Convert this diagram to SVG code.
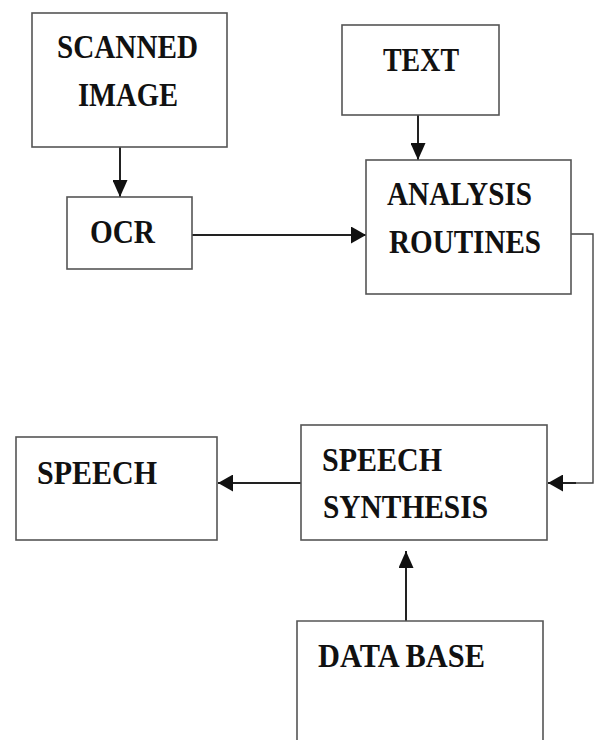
<svg xmlns="http://www.w3.org/2000/svg" width="595" height="740" viewBox="0 0 595 740">
  <style>
    .box { fill: #ffffff; stroke: #555555; stroke-width: 1.6; }
    .lbl { font-family: "Liberation Serif", "Times New Roman", serif; font-weight: bold; font-size: 33px; fill: #111111; }
    .wire { fill: none; stroke: #222222; stroke-width: 2; }
    .thin { fill: none; stroke: #444444; stroke-width: 1.4; }
  </style>
  <defs>
    <!-- arrowhead for vertical runs -->
    <marker id="headV" markerUnits="userSpaceOnUse" markerWidth="17" markerHeight="15" refX="17" refY="7.5" orient="auto">
      <path d="M0,0 L17,7.5 L0,15 z" fill="#111111"/>
    </marker>
    <!-- arrowhead for horizontal runs -->
    <marker id="headH" markerUnits="userSpaceOnUse" markerWidth="15" markerHeight="17" refX="15" refY="8.5" orient="auto">
      <path d="M0,0 L15,8.5 L0,17 z" fill="#111111"/>
    </marker>
  </defs>
  <rect width="595" height="740" fill="#ffffff"/>

  <g id="connectors">
    <path class="wire" d="M120,147 L120,197" marker-end="url(#headV)"/>
    <path class="wire" d="M192,235 L366,235" marker-end="url(#headH)"/>
    <path class="wire" d="M418,115 L418,160" marker-end="url(#headV)"/>
    <path class="thin" d="M571,234 L593,234 L593,483 L575,483"/>
    <path class="wire" d="M576,483 L548,483" marker-end="url(#headH)"/>
    <path class="wire" d="M301,483 L218,483" marker-end="url(#headH)"/>
    <path class="wire" d="M406,621 L406,551" marker-end="url(#headV)"/>
  </g>

  <g id="scanned-image">
    <rect class="box" x="32" y="13" width="195" height="134"/>
    <text class="lbl" x="57" y="58" textLength="141" lengthAdjust="spacingAndGlyphs">SCANNED</text>
    <text class="lbl" x="78" y="106" textLength="100" lengthAdjust="spacingAndGlyphs">IMAGE</text>
  </g>

  <g id="ocr">
    <rect class="box" x="67" y="197" width="125" height="72"/>
    <text class="lbl" x="90" y="243" textLength="65" lengthAdjust="spacingAndGlyphs">OCR</text>
  </g>

  <g id="text">
    <rect class="box" x="342" y="25" width="157" height="90"/>
    <text class="lbl" x="383" y="71" textLength="76" lengthAdjust="spacingAndGlyphs">TEXT</text>
  </g>

  <g id="analysis-routines">
    <rect class="box" x="366" y="160" width="205" height="134"/>
    <text class="lbl" x="387" y="205" textLength="145" lengthAdjust="spacingAndGlyphs">ANALYSIS</text>
    <text class="lbl" x="389" y="253" textLength="152" lengthAdjust="spacingAndGlyphs">ROUTINES</text>
  </g>

  <g id="speech-synthesis">
    <rect class="box" x="301" y="425" width="246" height="115"/>
    <text class="lbl" x="322" y="471" textLength="120" lengthAdjust="spacingAndGlyphs">SPEECH</text>
    <text class="lbl" x="323" y="518" textLength="165" lengthAdjust="spacingAndGlyphs">SYNTHESIS</text>
  </g>

  <g id="speech">
    <rect class="box" x="16" y="437" width="201" height="103"/>
    <text class="lbl" x="37" y="484" textLength="120" lengthAdjust="spacingAndGlyphs">SPEECH</text>
  </g>

  <g id="data-base">
    <path class="box" d="M297,745 L297,621 L543,621 L543,745"/>
    <text class="lbl" x="318" y="667" textLength="167" lengthAdjust="spacingAndGlyphs">DATA BASE</text>
  </g>
</svg>
